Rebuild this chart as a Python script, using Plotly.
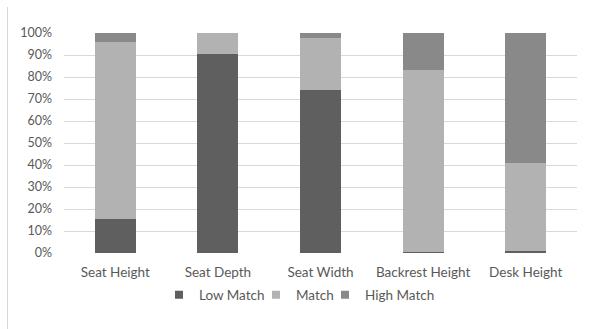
import plotly.graph_objects as go

categories = ["Seat Height", "Seat Depth", "Seat Width", "Backrest Height", "Desk Height"]
low_match = [15.5, 90.5, 74.3, 0.6, 1.0]
match = [80.3, 9.5, 23.6, 82.6, 40.0]
high_match = [4.2, 0.0, 2.1, 16.8, 59.0]
y_ticks = [0, 10, 20, 30, 40, 50, 60, 70, 80, 90, 100]

series = [("Low Match", low_match, "#5f5f5f", 52),
          ("Match", match, "#b2b2b2", 24),
          ("High Match", high_match, "#898989", 70)]

fig = go.Figure()
for name, vals, color, lw in series:
    fig.add_trace(go.Bar(
        x=categories, y=[v / 100 for v in vals], name=name,
        marker=dict(color=color, line=dict(width=0)),
        showlegend=False, legendgroup=name,
    ))
for name, vals, color, lw in series:
    fig.add_trace(go.Scatter(
        x=[None], y=[None], mode="markers", name=name, legendgroup=name,
        marker=dict(symbol="square", size=8, color=color, line=dict(width=0)),
        legendwidth=lw, hoverinfo="skip",
    ))

W, H = 589, 329
ml, mr, mt, mb = 64, 12, 33, 76
pw = W - ml - mr
ph = H - mt - mb

fig.update_layout(
    width=W, height=H,
    barmode="stack", bargap=0.6,
    margin=dict(l=ml, r=mr, t=mt, b=mb, pad=0),
    paper_bgcolor="white", plot_bgcolor="white",
    font=dict(family="Lato, Carlito, sans-serif", size=13.5, color="#595959"),
    xaxis=dict(showgrid=False, showline=False, ticks="", ticklabelstandoff=9,
               tickfont=dict(size=13.5, color="#595959")),
    yaxis=dict(range=[0, 1], tickvals=[t / 100 for t in y_ticks],
               ticktext=[f"{t}%" for t in y_ticks],
               showgrid=True, gridcolor="#d9d9d9", gridwidth=1,
               zeroline=False, showline=False, ticks="", ticklabelstandoff=11,
               tickfont=dict(size=12.5, color="#595959")),
    legend=dict(orientation="h", x=(159 - ml) / pw, xanchor="left",
                y=-(295 - (mt + ph)) / ph, yanchor="middle",
                font=dict(size=13.5, color="#595959"), traceorder="normal",
                itemwidth=30, itemclick=False, itemdoubleclick=False),
    showlegend=True,
    shapes=[dict(type="line", xref="paper", yref="paper",
                 x0=(7.5 - ml) / pw, x1=(7.5 - ml) / pw,
                 y0=-(H - mt - ph) / ph, y1=1 + (mt - 7) / ph,
                 line=dict(color="#d9d9d9", width=1))],
)

fig.write_html("out.html")
